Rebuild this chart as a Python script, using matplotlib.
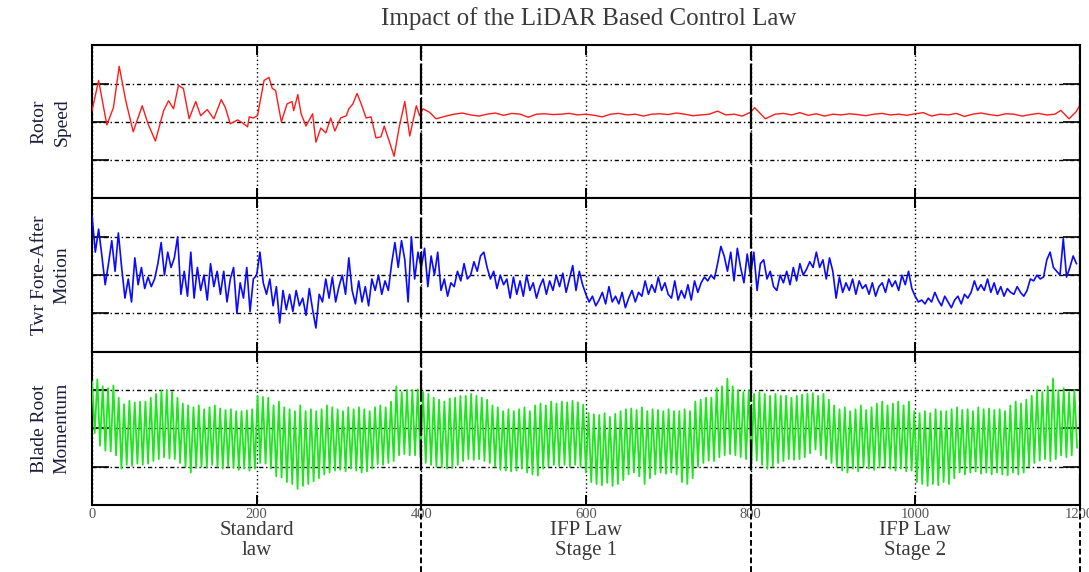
import numpy as np
import matplotlib
matplotlib.use('Agg')
import matplotlib.pyplot as plt
from matplotlib.lines import Line2D

# ── Data ───────────────────────────────────────────────────────────────────────
# Rotor speed: sample times and values (panel scale 0..4)
red_t = [0, 8, 18, 26, 33, 41, 50, 61, 68, 77, 87, 93, 99, 105, 111, 118, 126,
         132, 140, 148, 157, 162, 168, 177, 183, 189, 191, 196, 201, 209, 215,
         219, 223, 230, 237, 243, 245, 250, 254, 260, 268, 272, 278, 284, 290,
         295, 302, 309, 312, 317, 322, 327, 333, 339, 345, 351, 355, 361, 367,
         373, 380, 386, 394, 398, 402, 410, 418, 430, 440, 450, 460, 470, 480,
         490, 500, 510, 520, 530, 540, 550, 560, 570, 580, 590, 600, 610, 620,
         630, 640, 650, 660, 670, 680, 690, 700, 710, 720, 730, 740, 750, 760,
         770, 780, 790, 800, 805, 818, 830, 840, 850, 860, 870, 880, 890, 900,
         910, 920, 930, 940, 950, 960, 970, 980, 990, 1000, 1010, 1020, 1030,
         1040, 1050, 1060, 1070, 1080, 1090, 1100, 1110, 1120, 1130, 1140,
         1150, 1160, 1170, 1177, 1187, 1195, 1200]
red_v = [2.29, 3.08, 1.92, 2.37, 3.45, 2.55, 1.74, 2.42, 1.95, 1.50, 2.29, 2.55,
         2.34, 2.95, 2.87, 2.08, 2.53, 2.16, 2.32, 2.08, 2.58, 2.37, 1.95, 2.05,
         1.97, 1.87, 2.13, 2.10, 2.16, 3.08, 3.16, 2.87, 2.82, 2.00, 2.47, 2.53,
         2.29, 2.71, 2.21, 1.89, 2.21, 1.47, 1.84, 1.71, 2.10, 1.76, 2.10, 2.16,
         2.34, 2.47, 2.74, 2.47, 2.10, 2.13, 1.58, 1.61, 1.89, 1.50, 1.10, 1.84,
         2.53, 1.63, 2.42, 2.16, 2.34, 2.25, 2.08, 2.15, 2.20, 2.23, 2.18, 2.15,
         2.20, 2.23, 2.17, 2.22, 2.20, 2.12, 2.20, 2.21, 2.19, 2.20, 2.22, 2.18,
         2.20, 2.17, 2.13, 2.20, 2.22, 2.18, 2.20, 2.15, 2.20, 2.21, 2.19, 2.23,
         2.20, 2.16, 2.18, 2.20, 2.28, 2.18, 2.20, 2.15, 2.25, 2.37, 2.08, 2.20,
         2.22, 2.18, 2.24, 2.17, 2.21, 2.15, 2.20, 2.18, 2.21, 2.19, 2.16, 2.20,
         2.22, 2.18, 2.20, 2.17, 2.21, 2.24, 2.15, 2.20, 2.18, 2.22, 2.14, 2.20,
         2.23, 2.19, 2.16, 2.21, 2.20, 2.15, 2.19, 2.22, 2.18, 2.20, 2.30, 2.08,
         2.25, 2.42]

# Tower fore-after motion, one value every 4 s
blue_v = [
    3.55, 2.6, 3.2, 2.5, 1.75, 2.3, 2.9, 2.1, 3.1, 2.2,
    1.4, 1.9, 1.3, 2.45, 1.75, 2.2, 1.65, 1.95, 1.7, 1.9,
    2.3, 2.85, 2.0, 2.6, 2.2, 2.45, 3.0, 1.5, 2.1, 1.45,
    2.6, 1.4, 2.2, 1.6, 2.0, 1.35, 2.3, 1.7, 2.1, 1.5,
    2.1, 1.3, 1.9, 2.2, 1.0, 1.8, 1.4, 2.2, 1.05, 1.9,
    2.0, 2.6, 1.8, 1.5, 1.9, 1.2, 1.7, 0.75, 1.6, 1.1,
    1.5, 1.05, 1.6, 1.2, 1.4, 0.95, 1.65, 1.1, 0.62, 1.5,
    1.3, 1.9, 1.4, 1.95, 1.3, 1.7, 2.0, 1.5, 2.45, 1.6,
    1.25, 1.85, 1.3, 1.7, 1.2, 1.9, 1.6, 2.0, 1.5, 1.85,
    1.6, 2.3, 2.85, 2.2, 2.9, 2.4, 1.3, 3.0, 1.9, 2.6,
    2.2, 2.7, 1.7, 2.5, 2.0, 2.6, 1.6, 1.9, 1.45, 1.8,
    1.7, 2.1, 1.85, 2.3, 1.9, 2.0, 2.35, 2.1, 2.5, 2.6,
    2.2, 1.9, 2.1, 1.65, 2.0, 1.75, 1.9, 1.4, 1.95, 1.5,
    1.85, 1.45, 2.0, 1.6, 1.8, 1.4, 1.7, 1.9, 1.5, 1.85,
    1.6, 2.0, 1.7, 2.05, 1.55, 1.9, 2.25, 1.6, 2.1, 1.75,
    1.5, 1.3, 1.45, 1.2, 1.35, 1.55, 1.25, 1.7, 1.3, 1.45,
    1.25, 1.55, 1.15, 1.4, 1.6, 1.3, 1.55, 1.45, 1.85, 1.5,
    1.75, 1.55, 1.95, 1.6, 1.8, 1.5, 1.4, 1.85, 1.35, 1.6,
    1.4, 1.75, 1.35, 1.85, 1.55, 1.8, 1.95, 1.85, 2.0, 1.9,
    2.3, 2.75, 2.5, 2.1, 2.6, 1.85, 2.7, 2.2, 1.8, 2.55,
    2.0, 2.6, 1.6, 2.3, 2.4, 1.9, 2.1, 1.7, 1.6, 2.0,
    1.8, 2.1, 1.75, 2.2, 1.85, 2.3, 2.0, 2.15, 2.35, 2.2,
    2.6, 2.2, 2.4, 1.9, 2.45, 2.1, 1.4, 1.95, 1.55, 1.8,
    1.6, 1.9, 1.5, 1.85, 1.65, 1.75, 1.5, 1.8, 1.45, 1.7,
    1.8, 1.55, 1.9, 1.7, 1.85, 1.6, 2.0, 1.75, 2.1, 1.65,
    1.45, 1.3, 1.35, 1.25, 1.4, 1.3, 1.55, 1.35, 1.2, 1.45,
    1.3, 1.15, 1.35, 1.45, 1.25, 1.5, 1.4, 1.55, 1.85, 1.6,
    1.75, 1.6, 1.9, 1.55, 1.8, 1.5, 1.7, 1.45, 1.65, 1.55,
    1.5, 1.7, 1.55, 1.45, 1.6, 1.9, 1.85, 2.0, 1.9, 1.95,
    2.4, 2.6, 2.2, 2.1, 2.0, 2.95, 1.95, 2.2, 2.5, 2.3,
]

# Blade root moment: peaks and troughs of each oscillation cycle
green_hi = [
    3.22, 3.28, 3.10, 3.05, 3.12, 2.80, 2.63, 2.72, 2.68, 2.70,
    2.70, 2.80, 2.90, 2.98, 3.00, 2.95, 2.80, 2.65, 2.60, 2.55,
    2.60, 2.50, 2.55, 2.60, 2.52, 2.48, 2.50, 2.45, 2.45, 2.47,
    2.50, 2.85, 2.82, 2.80, 2.60, 2.70, 2.55, 2.50, 2.45, 2.60,
    2.45, 2.50, 2.45, 2.50, 2.60, 2.55, 2.50, 2.45, 2.55, 2.50,
    2.55, 2.50, 2.45, 2.55, 2.60, 2.55, 2.70, 3.10, 2.95, 3.00,
    3.00, 3.02, 2.95, 2.90, 2.80, 2.75, 2.70, 2.78, 2.80, 2.85,
    2.85, 2.90, 2.85, 2.80, 2.75, 2.60, 2.55, 2.45, 2.50, 2.45,
    2.50, 2.55, 2.45, 2.60, 2.65, 2.60, 2.70, 2.65, 2.70, 2.68,
    2.72, 2.68, 2.62, 2.40, 2.37, 2.35, 2.40, 2.30, 2.38, 2.45,
    2.50, 2.52, 2.48, 2.55, 2.45, 2.50, 2.48, 2.45, 2.50, 2.45,
    2.45, 2.50, 2.45, 2.70, 2.75, 2.80, 2.80, 3.05, 3.10, 3.30,
    3.10, 3.00, 2.95, 3.00, 2.90, 2.95, 2.90, 2.85, 2.90, 2.85,
    2.85, 2.80, 2.85, 2.88, 2.90, 2.92, 2.85, 2.90, 2.75, 2.60,
    2.50, 2.55, 2.45, 2.50, 2.60, 2.48, 2.55, 2.65, 2.70, 2.60,
    2.65, 2.70, 2.60, 2.70, 2.45, 2.40, 2.45, 2.40, 2.50, 2.45,
    2.45, 2.50, 2.55, 2.48, 2.50, 2.45, 2.55, 2.50, 2.52, 2.48,
    2.50, 2.45, 2.60, 2.70, 2.65, 2.75, 2.85, 3.00, 2.95, 3.10,
    3.30, 3.00, 3.05, 2.95, 3.00,
]
green_lo = [
    1.88, 1.55, 1.42, 1.40, 1.30, 0.95, 1.05, 1.02, 1.08, 1.05,
    1.08, 1.15, 1.20, 1.25, 1.22, 1.20, 1.10, 1.00, 0.85, 0.98,
    1.00, 0.98, 1.05, 1.00, 0.95, 1.00, 0.97, 0.92, 0.95, 0.90,
    0.95, 1.10, 1.08, 0.95, 0.75, 0.72, 0.60, 0.55, 0.42, 0.50,
    0.55, 0.62, 0.70, 0.80, 0.85, 0.90, 0.92, 0.88, 0.95, 0.90,
    0.85, 0.88, 0.95, 1.07, 1.05, 1.10, 1.15, 1.30, 1.33, 1.30,
    1.30, 1.25, 1.10, 1.05, 1.00, 0.98, 0.95, 0.97, 1.05, 1.15,
    1.20, 1.18, 1.20, 1.15, 1.10, 1.00, 0.92, 0.90, 0.88, 0.90,
    0.95, 0.85, 0.80, 0.77, 0.95, 1.00, 1.05, 1.02, 1.05, 1.00,
    1.05, 1.00, 0.85, 0.60, 0.55, 0.52, 0.58, 0.50, 0.55, 0.65,
    0.80, 0.85, 0.75, 0.55, 0.70, 0.80, 0.85, 0.82, 0.85, 0.80,
    0.60, 0.55, 0.70, 1.00, 1.10, 1.16, 1.15, 1.25, 1.30, 1.33,
    1.30, 1.25, 1.20, 1.10, 1.16, 1.05, 0.95, 1.00, 1.10, 1.15,
    1.20, 1.18, 1.20, 1.25, 1.35, 1.45, 1.30, 1.20, 1.10, 1.00,
    0.90, 0.85, 0.95, 0.88, 1.00, 0.95, 0.92, 0.98, 1.00, 0.95,
    0.90, 0.95, 0.88, 0.90, 0.60, 0.55, 0.50, 0.55, 0.52, 0.60,
    0.55, 0.70, 0.85, 0.80, 0.85, 0.88, 0.82, 0.85, 0.80, 0.85,
    0.80, 0.78, 0.85, 0.80, 0.85, 1.00, 1.10, 1.16, 1.20, 1.15,
    1.20, 1.30, 1.25, 1.30, 1.50,
]

panel_labels = ['Rotor\nSpeed', 'Twr Fore-After\nMotion', 'Blade Root\nMomentum']
stage_labels = ['Standard\nlaw', 'IFP Law\nStage 1', 'IFP Law\nStage 2']
stage_centres = [200, 600, 1000]
x_ticks = [0, 200, 400, 600, 800, 1000, 1200]
boundaries = [400, 800, 1200]

# ── Derived sample times ───────────────────────────────────────────────────────
blue_t = np.arange(len(blue_v)) * 4.0
period = 1200.0 / len(green_hi)
green_t = np.empty(2 * len(green_hi))
green_t[0::2] = np.arange(len(green_hi)) * period
green_t[1::2] = np.arange(len(green_lo)) * period + period / 2
green_v = np.empty(2 * len(green_hi))
green_v[0::2] = green_hi
green_v[1::2] = green_lo

plt.rcParams['font.family'] = ['Liberation Serif', 'DejaVu Serif']

fig, axes = plt.subplots(3, 1, figsize=(10.89, 5.72), dpi=100, sharex=True)
fig.subplots_adjust(left=0.0845, right=0.9915, top=0.921, bottom=0.117, hspace=0)

series = [(red_t, red_v, '#ff1a1a', 1.0), (blue_t, blue_v, '#0a0aff', 1.2),
          (green_t, green_v, '#1ee61e', 1.3)]

for ax, (t, v, col, lw), lab in zip(axes, series, panel_labels):
    ax.plot(t, v, color=col, lw=lw, zorder=3)
    ax.set_xlim(0, 1200)
    ax.set_ylim(0, 4)
    ax.set_yticks([1, 2, 3])
    ax.set_yticklabels([])
    ax.set_xticks(x_ticks)
    ax.grid(axis='y', color='black', lw=1.0, linestyle=(0, (3, 2, 1, 2)))
    ax.grid(axis='x', color='black', lw=1.0, linestyle=(0, (1, 2)))
    ax.tick_params(axis='y', direction='in', length=12, width=1.2,
                   left=True, right=True)
    ax.tick_params(axis='x', direction='in', length=7, width=1.4,
                   top=True, bottom=True)
    for s in ax.spines.values():
        s.set_linewidth(1.5)
    ax.set_ylabel(lab, fontsize=14, color='#1c1c3c', labelpad=12,
                  linespacing=1.45)

# The last tick label (1200) is clipped by the right image edge, as in the source
axes[-1].set_xticklabels([str(x) for x in x_ticks], fontsize=10.5,
                         color='#555555')
axes[-1].tick_params(axis='x', pad=2)

for xc, txt in zip(stage_centres, stage_labels):
    axes[-1].text(xc, -0.105, txt, transform=axes[-1].get_xaxis_transform(),
                  ha='center', va='top', fontsize=15, color='#3a3a3a',
                  linespacing=1.05)

# Stage separators running through all panels and below the axes
for xb in boundaries:
    for ax in axes:
        ax.axvline(xb, color='black', lw=1.6, dashes=(14, 1.5), zorder=4)
    x_fig = fig.transFigure.inverted().transform(
        axes[-1].transData.transform((xb, 0)))[0]
    fig.add_artist(Line2D([x_fig, x_fig], [0.0, 0.117], color='black',
                          lw=1.4, dashes=(3, 1.5)))

fig.suptitle('Impact of the LiDAR Based Control Law', fontsize=18,
             color='#3a3a3a', x=0.541, y=0.968, va='center')

fig.savefig('out.png', dpi=100)
